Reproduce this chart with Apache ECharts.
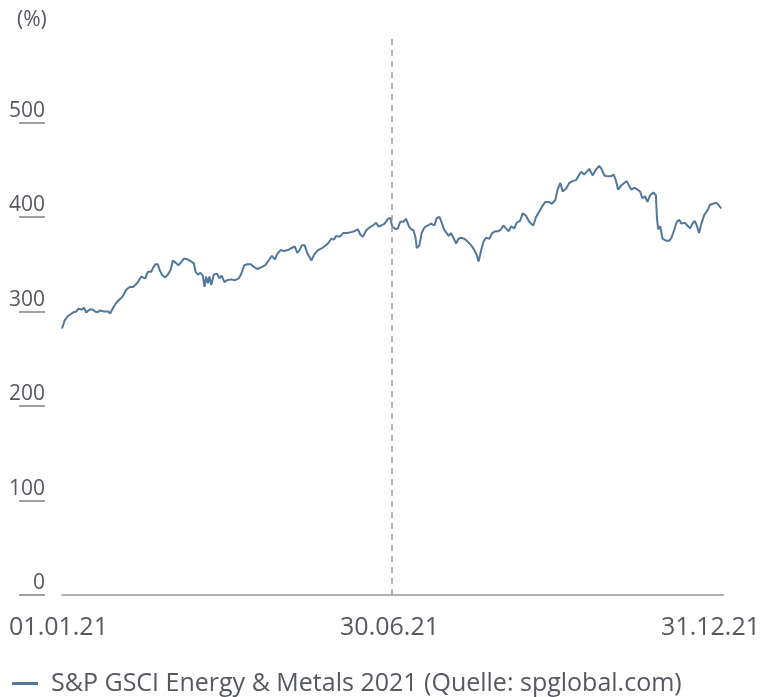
<!DOCTYPE html>
<html>
<head>
<meta charset="utf-8">
<script src="https://cdn.jsdelivr.net/npm/echarts@6/dist/echarts.min.js"></script>
<style>
  html, body { margin: 0; padding: 0; background: #fff; }
  #chart { width: 763px; height: 697px; }
</style>
</head>
<body>
<div id="chart"></div>
<script>
// trading day index in 2021 (0 = 01.01.21, 129 = 30.06.21, 258 = 31.12.21)
const days = [
  0, 1.1, 2.3, 4.3, 5.6, 6.5, 7.8, 8.6, 9.5, 10.8, 12.1, 13.0, 13.8, 14.7, 16.4, 18.0, 18.9, 20.0,
  21.2, 22.6, 23.8, 25.1, 26.5, 27.8, 28.7, 29.7, 31.0, 32.6, 33.6, 34.9, 35.6, 36.5, 37.5, 38.2,
  39.1, 40.4, 41.4, 42.5, 43.4, 44.3, 45.6, 46.6, 47.7, 49.3, 50.5, 51.6, 52.3, 53.2, 54.2, 55.1,
  55.8, 56.4, 57.1, 57.7, 58.4, 59.4, 60.7, 61.6, 62.5, 63.6, 64.6,
  66.3, 67.6, 69.2, 70.2, 71.3, 72.6, 73.9, 75.2, 76.5, 78.1, 79.6, 80.9, 82.2, 83.3, 84.3, 85.6,
  86.9, 88.5, 89.8, 91.1, 92.1, 93.0, 93.9, 95.0, 96.0, 97.6, 98.9, 100.2, 101.8, 102.8, 104.1,
  105.4, 106.4, 107.4, 108.7, 110.0, 111.7, 113.2, 114.5, 115.8, 116.9, 117.8, 119.1, 120.4, 121.7,
  123.0, 123.9, 125.0, 126.3, 127.6, 128.5,
  129.3, 130.6, 131.5, 132.4, 133.7, 134.7, 135.8, 136.7, 137.6, 138.4, 138.9, 139.9, 140.8, 141.9,
  143.2, 144.5, 145.8, 146.7, 147.8, 148.8, 149.7, 150.6, 151.4, 152.3, 153.2, 154.3, 155.2, 156.2,
  157.5, 158.8, 160.2, 161.4, 162.3, 163.1, 164.1, 165.0, 166.0, 167.3, 168.4, 169.7, 170.9, 171.9,
  172.8, 173.8, 174.9, 175.8, 177.1, 178.0, 179.3, 180.4, 181.7, 182.7, 183.6, 184.5, 185.6, 186.9,
  187.9, 189.2, 190.5, 191.8, 193.1, 194.0,
  195.1, 196.0, 197.3, 198.6, 199.9, 201.2, 202.1, 203.2, 204.4, 205.5, 206.4, 207.7, 209.0, 210.3,
  211.2, 212.3, 213.6, 214.9, 215.9, 216.8, 217.7, 218.8, 220.1, 221.1, 222.0, 222.9, 224.0, 225.3,
  226.3, 227.2, 228.2, 229.2, 230.2, 231.5, 232.5, 232.9, 233.4, 234.2, 235.1, 236.4, 237.7, 238.6,
  239.6, 240.7, 241.6, 242.5, 243.8, 244.8, 245.9, 246.8, 247.7, 248.5, 249.4, 250.3, 251.4, 252.7,
  253.7, 254.8, 256.1, 257.0, 258
];

// S&P GSCI Energy & Metals, in %
const values = [
  282, 291, 295, 299, 300, 303, 302, 304, 299, 302, 302, 300, 299, 301, 300, 300, 298, 304,
  309, 313, 316, 323, 326, 326, 328, 331, 337, 335, 342, 342, 346, 350, 350, 344,
  339, 336, 339, 344, 354, 352, 349, 352, 356, 355, 353, 351, 342, 339, 341, 338,
  326, 337, 330, 337, 328, 339, 340, 335, 338, 331, 333,
  334, 333, 335, 340, 349, 350, 350, 347, 345, 347, 349, 354, 359, 355, 361, 365,
  364, 365, 367, 369, 362, 365, 370, 370, 362, 354, 361, 365, 367, 369, 372,
  377, 376, 380, 379, 383, 383, 384, 385, 387, 381, 379, 386, 389, 391,
  394, 390, 391, 393, 398, 399,
  390, 387, 388, 395, 395, 398, 390, 387, 386, 378, 367, 370, 383, 389,
  391, 393, 391, 399, 400, 393, 386, 383, 380, 383, 378, 372, 377, 378,
  377, 374, 370, 365, 360, 353, 365, 374, 378, 377, 383, 385, 385, 387,
  391, 388, 385, 390, 388, 394, 396, 404, 401, 396, 393, 391, 400, 406,
  411, 416, 416, 414, 418, 429,
  436, 427, 430, 436, 438, 439, 443, 448, 445, 448, 451, 444, 450, 454,
  451, 444, 443, 443, 445, 439, 429, 433, 436, 438, 433, 429, 431, 429,
  427, 420, 422, 416, 423, 426, 423, 399, 387, 390, 377, 375, 375, 378,
  386, 395, 397, 393, 394, 391, 388, 393, 396, 391, 383, 393, 402, 407,
  413, 414, 415, 413, 409
];

const xTickValues = [0, 129, 258];
const xTickLabels = ['01.01.21', '30.06.21', '31.12.21'];
const yTickValues = [0, 100, 200, 300, 400, 500];
const midYearDay = 129;

const textColor = '#55595f';
const lineColor = '#52779b';
const fontFamily = '"Open Sans", "DejaVu Sans", sans-serif';
const legendName = 'S&P GSCI Energy & Metals 2021 (Quelle: spglobal.com)';

const chart = echarts.init(document.getElementById('chart'));

const option = {
  animation: false,
  textStyle: { fontFamily: fontFamily },
  title: {
    text: '(%)',
    left: 12,
    top: 5,
    textStyle: { fontSize: 21, fontWeight: 'normal', color: textColor, fontFamily: fontFamily }
  },
  grid: [
    { left: 62, right: 38, top: 28, bottom: 102 },
    // narrow strip left of the plot, used only for the short lines under the y labels
    { left: 19, right: 718, top: 28, bottom: 102 }
  ],
  legend: {
    left: 7,
    top: 666,
    itemWidth: 26,
    itemHeight: 3,
    icon: 'rect',
    textStyle: {
      fontSize: 25,
      color: textColor,
      fontFamily: fontFamily,
      padding: [4, 0, 0, 8]
    },
    data: [legendName]
  },
  xAxis: [{
    type: 'value',
    gridIndex: 0,
    min: 0,
    max: 259,
    splitLine: { show: false },
    axisTick: { show: false },
    axisLine: { show: true, lineStyle: { color: '#9a9a9a', width: 1.5 } },
    axisLabel: {
      customValues: xTickValues,
      margin: 20,
      fontSize: 25,
      color: textColor,
      formatter: (v) => {
        const i = xTickValues.indexOf(v);
        return '{l' + i + '|' + xTickLabels[i] + '}';
      },
      rich: {
        l0: { fontSize: 25, color: textColor, padding: [0, 7, 0, 0] },
        l1: { fontSize: 25, color: textColor, padding: [0, 4, 0, 0] },
        l2: { fontSize: 25, color: textColor, padding: [0, 21, 0, 0] }
      }
    }
  }, {
    type: 'value',
    gridIndex: 1,
    show: false
  }],
  yAxis: [{
    type: 'value',
    gridIndex: 0,
    min: 0,
    max: 600,
    offset: 17,
    splitLine: { show: false },
    axisLine: { show: false },
    axisTick: { show: false },
    axisLabel: {
      customValues: yTickValues,
      margin: 0,
      fontSize: 21,
      color: textColor,
      verticalAlign: 'bottom',
      padding: [0, 0, 1, 0]
    }
  }, {
    type: 'value',
    gridIndex: 1,
    min: 0,
    max: 600,
    interval: 100,
    axisLine: { show: false },
    axisTick: { show: false },
    axisLabel: { show: false },
    splitLine: {
      show: true,
      showMaxLine: false,
      lineStyle: { color: '#a0a0a0', width: 2 }
    }
  }],
  series: [{
    name: legendName,
    type: 'line',
    xAxisIndex: 0,
    yAxisIndex: 0,
    data: days.map((d, i) => [d, values[i]]),
    showSymbol: false,
    lineStyle: { color: lineColor, width: 2 },
    itemStyle: { color: lineColor },
    markLine: {
      silent: true,
      symbol: 'none',
      label: { show: false },
      lineStyle: { color: '#9a9a9a', type: [6, 5], width: 1.5 },
      data: [[{ coord: [midYearDay, 0] }, { coord: [midYearDay, 589] }]]
    }
  }]
};

chart.setOption(option);
</script>
</body>
</html>
